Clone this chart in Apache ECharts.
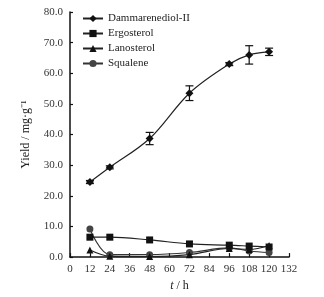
<!DOCTYPE html>
<html>
<head>
<meta charset="utf-8">
<script src="https://cdn.jsdelivr.net/npm/echarts@6/dist/echarts.min.js"></script>
<style>
  html, body { margin: 0; padding: 0; background: #fff; }
  #chart { width: 324px; height: 297px; }
</style>
</head>
<body>
<div id="chart"></div>
<script>
var hours = [12, 24, 48, 72, 96, 108, 120];
var dammarenediol = [24.5, 29.3, 38.7, 53.5, 63.0, 66.0, 67.0];
var dammarenediolErr = [0.5, 0.5, 2.0, 2.4, 0.5, 3.0, 1.2];
var ergosterol = [6.5, 6.5, 5.6, 4.3, 3.9, 3.6, 3.3];
var lanosterol = [2.3, 0.3, 0.2, 0.8, 2.8, 2.5, 3.8];
var squalene = [9.2, 0.8, 0.8, 1.5, 3.0, 2.0, 1.5];
var seriesNames = ['Dammarenediol-II', 'Ergosterol', 'Lanosterol', 'Squalene'];

var font = 'Liberation Serif';

function pairs(vals) {
    return hours.map(function (h, i) { return [h, vals[i]]; });
}

var errData = hours.map(function (h, i) {
    return [h, dammarenediol[i] - dammarenediolErr[i], dammarenediol[i] + dammarenediolErr[i]];
});

var myChart = echarts.init(document.getElementById('chart'));
var option = {
    animation: false,
    textStyle: { fontFamily: font },
    grid: { left: 70, right: 35, top: 12, bottom: 35 },
    legend: {
        left: 77,
        top: 8,
        orient: 'vertical',
        itemGap: 4,
        itemWidth: 20,
        itemHeight: 9,
        textStyle: { fontFamily: font, fontSize: 11, color: '#222' },
        data: seriesNames
    },
    xAxis: {
        type: 'value',
        min: 0,
        max: 132,
        interval: 12,
        name: '{i|t} / h',
        nameLocation: 'middle',
        nameGap: 20,
        nameTextStyle: {
            fontFamily: font, fontSize: 12, color: '#222',
            rich: { i: { fontFamily: font, fontSize: 12, fontStyle: 'italic', color: '#222' } }
        },
        axisLine: { lineStyle: { color: '#111', width: 1.5 } },
        axisTick: { inside: true, length: 4, lineStyle: { color: '#111', width: 1.2 } },
        axisLabel: { fontFamily: font, fontSize: 11, color: '#333', margin: 7 },
        splitLine: { show: false }
    },
    yAxis: {
        type: 'value',
        min: 0,
        max: 80,
        interval: 10,
        name: 'Yield / mg·g⁻¹',
        nameLocation: 'middle',
        nameGap: 38,
        nameTextStyle: { fontFamily: font, fontSize: 12, color: '#222' },
        axisLine: { show: true, lineStyle: { color: '#111', width: 1.5 } },
        axisTick: { show: true, inside: true, length: 3, lineStyle: { color: '#111', width: 1.2 } },
        axisLabel: {
            fontFamily: font, fontSize: 11, color: '#333', margin: 7,
            formatter: function (v) { return v.toFixed(1); }
        },
        splitLine: { show: false }
    },
    series: [
        {
            name: seriesNames[0],
            type: 'line',
            smooth: 0.35,
            symbol: 'diamond',
            symbolSize: 8,
            data: pairs(dammarenediol),
            lineStyle: { color: '#222', width: 1.2 },
            itemStyle: { color: '#111' },
            z: 4
        },
        {
            name: seriesNames[1],
            type: 'line',
            smooth: 0.35,
            symbol: 'rect',
            symbolSize: 7,
            data: pairs(ergosterol),
            lineStyle: { color: '#222', width: 1.2 },
            itemStyle: { color: '#111' },
            z: 4
        },
        {
            name: seriesNames[2],
            type: 'line',
            smooth: 0.35,
            symbol: 'triangle',
            symbolSize: 7,
            data: pairs(lanosterol),
            lineStyle: { color: '#222', width: 1.2 },
            itemStyle: { color: '#111' },
            z: 4
        },
        {
            name: seriesNames[3],
            type: 'line',
            smooth: 0.35,
            symbol: 'circle',
            symbolSize: 7,
            data: pairs(squalene),
            lineStyle: { color: '#333', width: 1.2 },
            itemStyle: { color: '#444' },
            z: 3
        },
        {
            type: 'custom',
            name: 'err',
            z: 5,
            data: errData,
            renderItem: function (params, api) {
                var x = api.value(0);
                var lo = api.coord([x, api.value(1)]);
                var hi = api.coord([x, api.value(2)]);
                var w = 4;
                var st = { stroke: '#111', lineWidth: 1.2 };
                return {
                    type: 'group',
                    children: [
                        { type: 'line', shape: { x1: lo[0], y1: lo[1], x2: hi[0], y2: hi[1] }, style: st },
                        { type: 'line', shape: { x1: lo[0] - w, y1: lo[1], x2: lo[0] + w, y2: lo[1] }, style: st },
                        { type: 'line', shape: { x1: hi[0] - w, y1: hi[1], x2: hi[0] + w, y2: hi[1] }, style: st }
                    ]
                };
            }
        }
    ]
};
myChart.setOption(option);
</script>
</body>
</html>
